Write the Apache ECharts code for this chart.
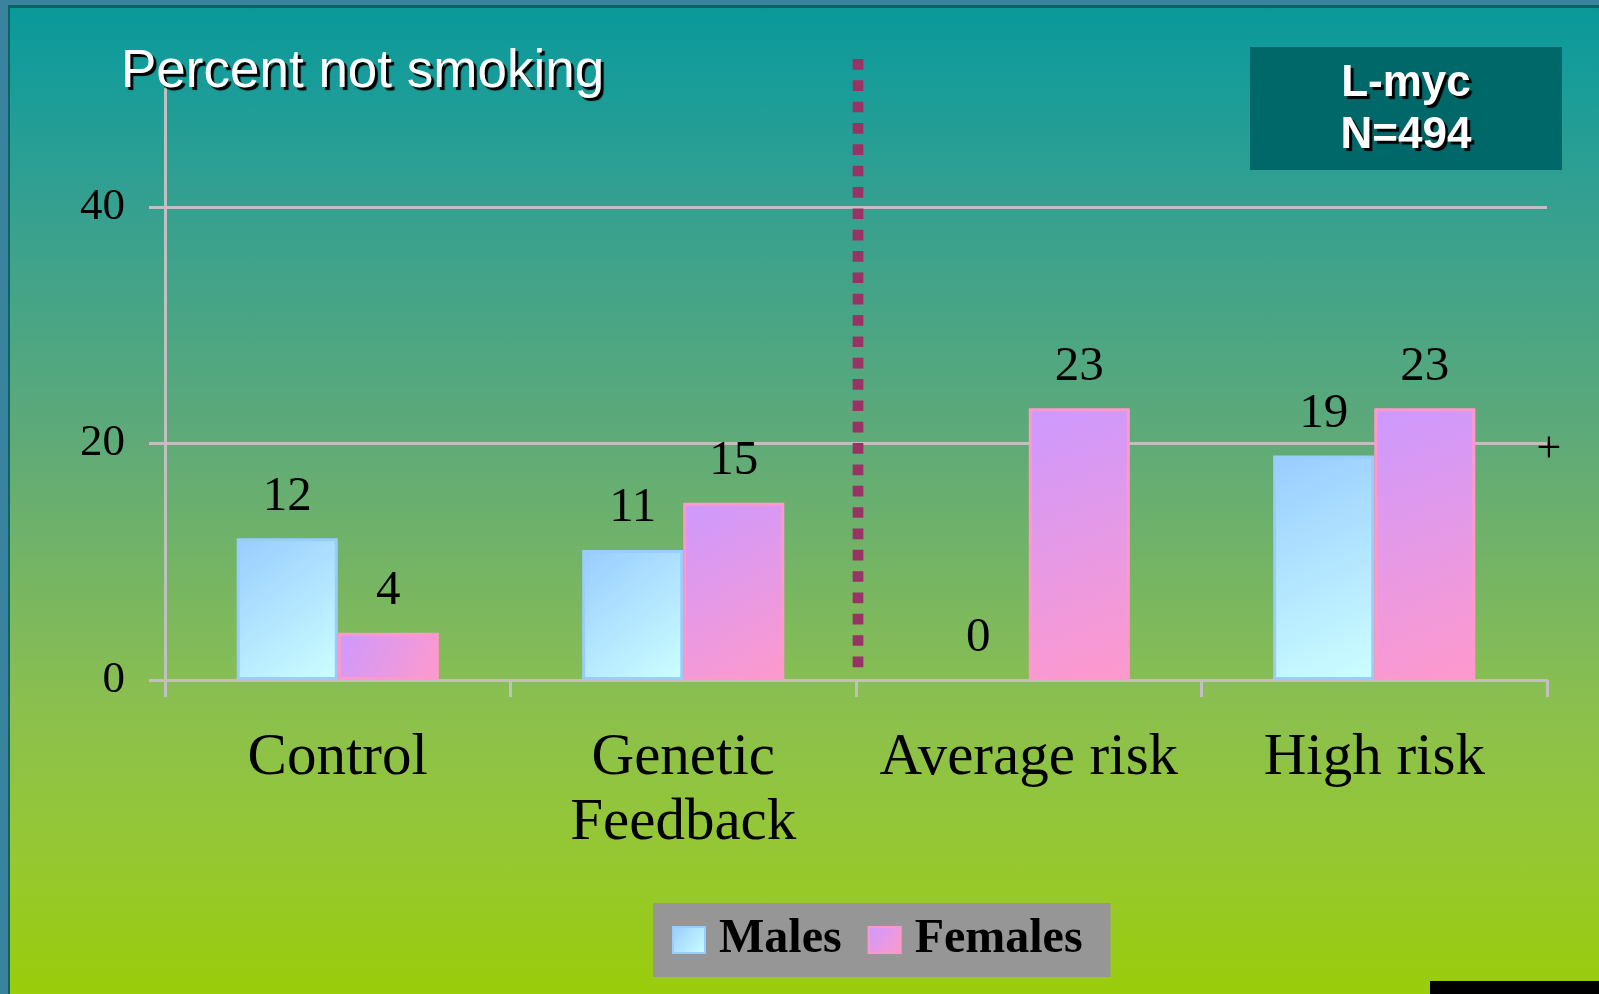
<!DOCTYPE html>
<html>
<head>
<meta charset="utf-8">
<script src="https://cdn.jsdelivr.net/npm/echarts@6/dist/echarts.min.js"></script>
<style>
html,body{margin:0;padding:0;width:1599px;height:994px;overflow:hidden;background:#3a839e;}
#slide{position:absolute;left:8px;top:5px;width:1591px;height:989px;box-sizing:border-box;border-left:2px solid #0a6464;border-top:3px solid #0a6464;
  background:linear-gradient(to bottom,#0a9999 0%,#159c9a 6%,#35a090 20%,#5faa78 44%,#8abf50 70%,#96c832 86%,#9acd0a 100%);}
#chart{position:absolute;left:0;top:0;width:1599px;height:994px;}
#blk{position:absolute;left:1430px;top:981px;width:169px;height:13px;background:#000;}
</style>
</head>
<body>
<div id="slide"></div>
<div id="chart"></div>
<div id="blk"></div>
<script>
const categories = ['Control', 'Genetic\nFeedback', 'Average risk', 'High risk'];
const seriesNames = ['Males', 'Females'];
const males = [12, 11, 0, 19];
const females = [4, 15, 23, 23];
const yTicks = [0, 20, 40];
const titleText = 'Percent not smoking';
const boxText = 'L-myc\nN=494';

const serif = "'Liberation Serif','Times New Roman',serif";
const sans = "'Liberation Sans',Arial,sans-serif";
function grad(c1, c2) {
  return new echarts.graphic.LinearGradient(0, 0, 1, 1, [{offset: 0, color: c1}, {offset: 1, color: c2}]);
}
// zero-height bars draw no outline
function barData(arr) {
  return arr.map(v => v === 0 ? {value: v, itemStyle: {borderWidth: 0}} : v);
}
const barLabel = {show: true, position: 'top', distance: 17, color: '#000', fontFamily: serif, fontSize: 49};
const shadow = {textShadowColor: '#000', textShadowOffsetX: 3, textShadowOffsetY: 3, textShadowBlur: 1};

const chart = echarts.init(document.getElementById('chart'));
chart.setOption({
  animation: false,
  backgroundColor: 'transparent',
  title: {
    text: titleText, left: 121, top: 46, padding: 0,
    textStyle: Object.assign({color: '#fff', fontFamily: sans, fontSize: 53, fontWeight: 'normal'}, shadow)
  },
  legend: {
    data: seriesNames, left: 653, top: 903, padding: [13, 28, 13, 19],
    backgroundColor: '#969696', itemWidth: 32, itemHeight: 26, itemGap: 26, icon: 'rect',
    textStyle: {fontFamily: serif, fontWeight: 'bold', fontSize: 48, color: '#000', padding: [0, 0, 0, 9]}
  },
  grid: {left: 165, right: 52, top: 89, bottom: 314},
  xAxis: {
    type: 'category', data: categories,
    axisLine: {lineStyle: {color: '#c0c0c0', width: 3}},
    axisTick: {show: true, length: 17, alignWithLabel: false, lineStyle: {color: '#c0c0c0', width: 3}},
    axisLabel: {interval: 0, color: '#000', fontFamily: serif, fontSize: 59, lineHeight: 65, margin: 46},
    splitLine: {show: false}
  },
  yAxis: {
    type: 'value', min: 0, max: 50,
    axisLine: {show: true, lineStyle: {color: '#c0c0c0', width: 3}},
    axisTick: {show: true, length: 16, customValues: yTicks, lineStyle: {color: '#c0c0c0', width: 3}},
    axisLabel: {customValues: yTicks, color: '#000', fontFamily: serif, fontSize: 45, margin: 40, padding: [0, 0, 6, 0]},
    splitLine: {show: true, lineStyle: {color: '#c0c0c0', width: 3}}
  },
  series: [
    {name: seriesNames[0], type: 'bar', data: barData(males), barGap: '0%', barCategoryGap: '41.5%',
     itemStyle: {color: grad('#99ccff', '#ccffff'), borderColor: '#99ccff', borderWidth: 3},
     label: barLabel},
    {name: seriesNames[1], type: 'bar', data: barData(females),
     itemStyle: {color: grad('#cc99ff', '#ff99cc'), borderColor: '#ff99cc', borderWidth: 3},
     label: barLabel}
  ]
});

const xa = chart.convertToPixel({xAxisIndex: 0}, 1);
const xb = chart.convertToPixel({xAxisIndex: 0}, 2);
const divX = Math.round((xa + xb) / 2) + 2;
chart.setOption({
  graphic: [
    {type: 'line', shape: {x1: divX, y1: 59, x2: divX, y2: 667.3},
     style: {stroke: '#993366', lineWidth: 10.7, lineDash: [10.67, 10.67], lineCap: 'butt'}, z: 10},
    {type: 'rect', shape: {x: 1250, y: 47, width: 312, height: 123}, style: {fill: '#006868'}},
    {type: 'text', style: Object.assign({text: boxText, x: 1406, y: 110, align: 'center', verticalAlign: 'middle',
      fill: '#fff', font: "bold 44px 'Liberation Sans', Arial, sans-serif", lineHeight: 52}, shadow), z: 10},
    {type: 'text', style: {text: '+', x: 1549, y: 450, align: 'center', verticalAlign: 'middle',
      fill: '#000', font: "44px 'Liberation Serif', serif"}}
  ]
});
</script>
</body>
</html>
